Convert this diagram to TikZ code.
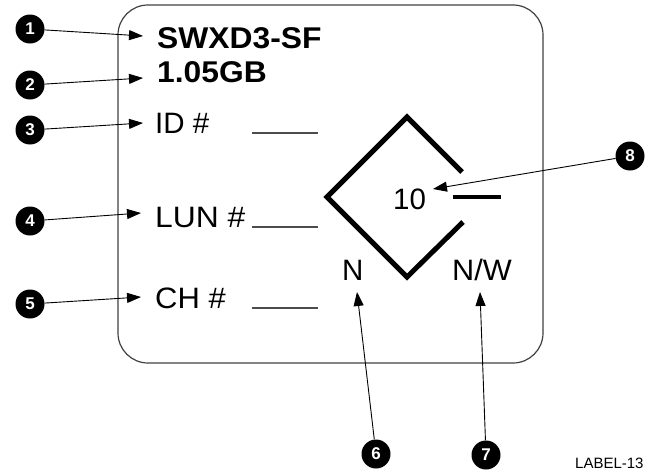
\documentclass[tikz,border=0pt]{standalone}
\usepackage{fontspec}
\setmainfont{Liberation Sans}
\usetikzlibrary{arrows.meta}
\begin{document}
\begin{tikzpicture}[x=1pt,y=-1pt,
  num/.style={circle,fill=black,minimum size=29pt,inner sep=0pt,text=white,font=\fontsize{17}{17}\selectfont\bfseries},
  arr/.style={line width=0.9pt,-{Triangle[length=14pt,width=10pt]}},
  big/.style={anchor=base west,inner sep=0pt,font=\fontsize{30}{30}\selectfont\bfseries},
  reg/.style={anchor=base west,inner sep=0pt,font=\fontsize{29.5}{30}\selectfont},
  blank/.style={line width=1.2pt,draw=black!70},
  dia/.style={line width=5pt,line join=miter,line cap=butt}]
\useasboundingbox (0,0) rectangle (645,471);
% label outline
\draw[line width=1.2pt,draw=black!75,rounded corners=30pt] (118,5) rectangle (543,363);
% texts
\node[big] (t1) at (157,48) {\scalebox{1.06}[1]{SWXD3-SF}};
\node[big] (t2) at (157,82) {\scalebox{1.06}[1]{1.05GB}};
\node[reg] (t3) at (155,133) {ID \#};
\node[reg] (t4) at (155,227) {\scalebox{1.08}[1]{LUN \#}};
\node[reg] (t5) at (155,308) {\scalebox{1.05}[1]{CH \#}};
\node[reg] (t10) at (393,209) {10};
\node[reg] (tn) at (342,280) {N};
\node[reg] (tnw) at (452,280) {\scalebox{1.04}[1]{N/W}};
\node[anchor=base west,inner sep=0pt,font=\fontsize{15}{15}\selectfont] (lab) at (575,468) {LABEL-13};
% blanks
\coordinate (b1a) at (252,133); \coordinate (b1b) at (318,133);
\coordinate (b2a) at (252,227); \coordinate (b2b) at (318,227);
\coordinate (b3a) at (252,308); \coordinate (b3b) at (318,308);
\draw[blank] (b1a) -- (b1b);
\draw[blank] (b2a) -- (b2b);
\draw[blank] (b3a) -- (b3b);
% diamond
\coordinate (d1) at (462,172); \coordinate (d2) at (407,117);
\coordinate (d3) at (327,197); \coordinate (d4) at (407,277);
\coordinate (d5) at (463,222);
\draw[dia] (d1) -- (d2) -- (d3) -- (d4) -- (d5);
\coordinate (m1) at (453,197); \coordinate (m2) at (501,197);
\draw[line width=4.5pt] (m1) -- (m2);
% callout circles
\node[num] (c1) at (30,29) {1};
\node[num] (c2) at (30,85) {2};
\node[num] (c3) at (30,130) {3};
\node[num] (c4) at (30,221) {4};
\node[num] (c5) at (30,304) {5};
\node[num] (c6) at (376,454) {6};
\node[num] (c7) at (486,455) {7};
\node[num] (c8) at (630,156) {8};
% arrow tips
\coordinate (a1) at (143,36);
\coordinate (a2) at (143,78);
\coordinate (a3) at (143,123);
\coordinate (a4) at (141,213);
\coordinate (a5) at (141,297);
\coordinate (a6) at (357,292);
\coordinate (a7) at (480,292);
\coordinate (a8) at (433,189);
\draw[arr] (c1) -- (a1);
\draw[arr] (c2) -- (a2);
\draw[arr] (c3) -- (a3);
\draw[arr] (c4) -- (a4);
\draw[arr] (c5) -- (a5);
\draw[arr] (c6) -- (a6);
\draw[arr] (c7) -- (a7);
\draw[arr] (c8) -- (a8);
\end{tikzpicture}
\end{document}
